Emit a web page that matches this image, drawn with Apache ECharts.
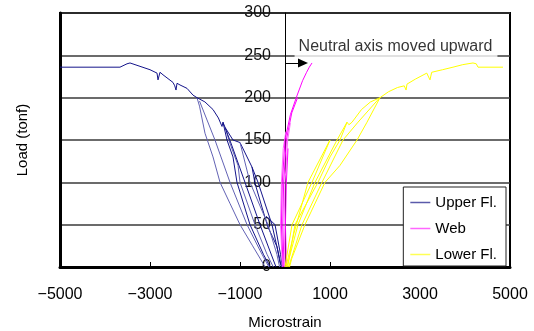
<!DOCTYPE html>
<html>
<head>
<meta charset="utf-8">
<script src="https://cdn.jsdelivr.net/npm/echarts@6/dist/echarts.min.js"></script>
<style>
html,body{margin:0;padding:0;background:#fff;}
#chart{width:534px;height:331px;}
</style>
</head>
<body>
<div id="chart"></div>
<script>
// ---- data (strain in microstrain, load in tonf) ----
const xTickLabels = [-5000, -3000, -1000, 1000, 3000, 5000];
const xTickMarks = [-3000, -1000, 1000, 3000];
const legendNames = ['Upper Fl.', 'Web', 'Lower Fl.'];

const upperEnvelope = [[-67,0],[-111,5],[-178,24],[-280,36],[-378,47],[-520,72],[-667,99],[-733,118],[-1000,147],[-1156,150],[-1333,165],[-1378,171],[-1400,166],[-1480,176],[-1600,186],[-1780,195],[-1956,200],[-2044,203],[-2178,211],[-2333,215],[-2400,217],[-2422,209],[-2450,214],[-2489,218],[-2711,227],[-2778,230],[-2822,221],[-2844,229],[-3000,233],[-3222,237],[-3444,241],[-3511,240],[-3667,236],[-5000,236]];
const upperL1 = [[-1956,200],[-1900,190],[-1778,158],[-1600,130],[-1444,100],[-1222,75],[-1000,50],[-720,25],[-440,0]];
const upperL2 = [[-1900,196],[-1556,150],[-1222,100],[-844,50],[-560,20],[-360,0]];
const upperL3 = [[-1378,171],[-1289,150],[-1156,130],[-1067,100],[-778,50],[-480,15],[-330,0]];
const upperL4 = [[-1333,165],[-1222,146],[-1044,120],[-1000,100],[-667,50],[-400,15],[-260,0]];
const upperL5 = [[-200,0],[-556,50],[-889,100],[-1178,143],[-1333,165]];
const upperL6 = [[-1000,147],[-778,100],[-378,50],[-180,15],[-120,0]];
const upperL7 = [[-733,118],[-600,100],[-289,50],[-120,10],[-80,0]];
const upperL8 = [[-420,60],[-222,50],[-100,15],[-60,0]];

const webL1 = [[-40,0],[-80,50],[-60,100],[0,150],[120,180],[250,200],[390,220],[480,230],[540,236],[600,241]];
const webL2 = [[-20,0],[-50,50],[-30,100],[30,150],[150,182],[280,200]];
const webL3 = [[0,0],[-20,50],[0,100],[60,150],[120,170]];
const webL4 = [[30,0],[10,50],[30,100],[67,140]];
const webL5 = [[-60,0],[-100,50],[-80,100],[-40,140],[20,160]];

const lowerEnvelope = [[60,0],[222,50],[733,100],[1000,130],[1222,150],[1378,171],[1420,168],[1489,171],[1700,186],[1900,195],[2111,200],[2300,207],[2500,212],[2650,214],[2690,209],[2711,216],[2900,222],[3150,229],[3222,221],[3260,230],[3500,233],[3733,236],[3950,239],[4178,241],[4250,240],[4289,236],[4844,236]];
const lowerL1 = [[2111,200],[1822,171],[1600,150],[1222,120],[889,100],[444,50],[150,10],[100,0]];
const lowerL2 = [[2090,199],[1622,171],[1289,150],[822,100],[378,50],[80,0]];
const lowerL3 = [[1378,171],[1156,150],[667,100],[289,50],[40,0]];
const lowerL4 = [[0,0],[156,50],[600,100],[1000,150]];
const lowerL5 = [[1000,150],[511,100],[200,40],[20,0]];

const annotationText = 'Neutral axis moved upward';
const annotationPoint = [[2467, 260]];
const arrowFrom = [0, 241];
const arrowTo = [400, 241];

// ---- styling ----
const FONT = '"Liberation Sans", Arial, sans-serif';
const NAVY_D = '#14148a';
const NAVY_L = '#6262b4';
const MAG = '#ff00ff';
const MAG_L = '#ff70ff';
const YEL = '#ffff00';
const LINE_ICON = 'path://M0,0 L40,0 L40,3 L0,3 Z';

function line(name, data, color) {
  return {
    name: name, type: 'line', data: data, symbol: 'none', smooth: false,
    lineStyle: { color: color, width: 1 }, itemStyle: { color: color },
    emphasis: { disabled: true }, z: 3
  };
}

const series = [
  line('Upper Fl.', upperL1, NAVY_L),
  line('Upper Fl.', upperEnvelope, NAVY_D),
  line('Upper Fl.', upperL2, NAVY_L),
  line('Upper Fl.', upperL3, NAVY_D),
  line('Upper Fl.', upperL4, NAVY_L),
  line('Upper Fl.', upperL5, NAVY_D),
  line('Upper Fl.', upperL6, NAVY_L),
  line('Upper Fl.', upperL7, NAVY_D),
  line('Upper Fl.', upperL8, NAVY_D),
  line('Web', webL5, MAG_L),
  line('Web', webL1, MAG),
  line('Web', webL2, MAG),
  line('Web', webL3, MAG_L),
  line('Web', webL4, MAG),
  line('Lower Fl.', lowerEnvelope, YEL),
  line('Lower Fl.', lowerL1, YEL),
  line('Lower Fl.', lowerL2, YEL),
  line('Lower Fl.', lowerL3, YEL),
  line('Lower Fl.', lowerL4, YEL),
  line('Lower Fl.', lowerL5, YEL),
  {
    name: 'annotation', type: 'scatter', data: annotationPoint, symbolSize: 0,
    silent: true, z: 5,
    label: {
      show: true, position: 'inside', formatter: annotationText,
      fontFamily: FONT, fontSize: 16, color: '#000',
      backgroundColor: '#fff', padding: [3, 5, 3, 4]
    },
    markLine: {
      silent: true, symbol: ['none', 'triangle'], symbolSize: [9, 10],
      label: { show: false },
      lineStyle: { color: '#000', width: 1, type: 'solid' },
      data: [[{ coord: arrowFrom }, { coord: arrowTo }]]
    }
  }
];

const chart = echarts.init(document.getElementById('chart'), null, { renderer: 'canvas' });
chart.setOption({
  animation: false,
  backgroundColor: '#fff',
  textStyle: { fontFamily: FONT },
  grid: { left: 60, right: 24, top: 13, bottom: 64, containLabel: false, outerBoundsMode: 'none',
          show: true, borderColor: '#000', borderWidth: 2, backgroundColor: 'transparent' },
  legend: {
    orient: 'vertical', right: 28, top: 187,
    icon: LINE_ICON,
    data: [
      { name: legendNames[0], icon: LINE_ICON, itemStyle: { color: '#5a5aaa' } },
      { name: legendNames[1], icon: LINE_ICON, itemStyle: { color: '#ff66ff' } },
      { name: legendNames[2], icon: LINE_ICON, itemStyle: { color: '#ffff55' } }
    ],
    itemWidth: 20, itemHeight: 14, itemGap: 11,
    padding: [8, 9, 4, 7],
    backgroundColor: '#fff', borderColor: '#222', borderWidth: 1,
    textStyle: { fontFamily: FONT, fontSize: 15, color: '#000' },
    selectedMode: false
  },
  xAxis: {
    type: 'value', min: -5000, max: 5000, interval: 1000,
    name: 'Microstrain', nameLocation: 'middle', nameGap: 48,
    nameTextStyle: { fontFamily: FONT, fontSize: 15, color: '#000' },
    axisLine: { onZero: false, lineStyle: { color: '#000', width: 3 } },
    axisTick: { show: true, inside: true, length: 5, customValues: xTickMarks, lineStyle: { color: '#000', width: 1 } },
    axisLabel: {
      customValues: xTickLabels, margin: 20, fontFamily: FONT, fontSize: 16, color: '#000',
      formatter: v => (v < 0 ? '\u2212' + Math.abs(v) : String(v))
    },
    splitLine: { show: false }
  },
  yAxis: [
    {
      type: 'value', min: 0, max: 300, interval: 50,
      position: 'left', offset: -225,
      axisLine: { show: true, onZero: false, lineStyle: { color: '#000', width: 1 } },
      axisTick: { show: false },
      axisLabel: { margin: 14, fontFamily: FONT, fontSize: 16, color: '#111' },
      splitLine: { show: true, lineStyle: { color: '#3a3a3a', width: 1.5 } }
    },
    {
      type: 'value', min: 0, max: 300, position: 'left', offset: 0,
      name: 'Load (tonf)', nameLocation: 'middle', nameGap: 30, nameRotate: 90,
      nameTextStyle: { fontFamily: FONT, fontSize: 15, color: '#000' },
      axisLine: { show: true, onZero: false, lineStyle: { color: '#000', width: 3 } },
      axisTick: { show: false }, axisLabel: { show: false }, splitLine: { show: false }
    }
  ],
  series: series
});
</script>
</body>
</html>
